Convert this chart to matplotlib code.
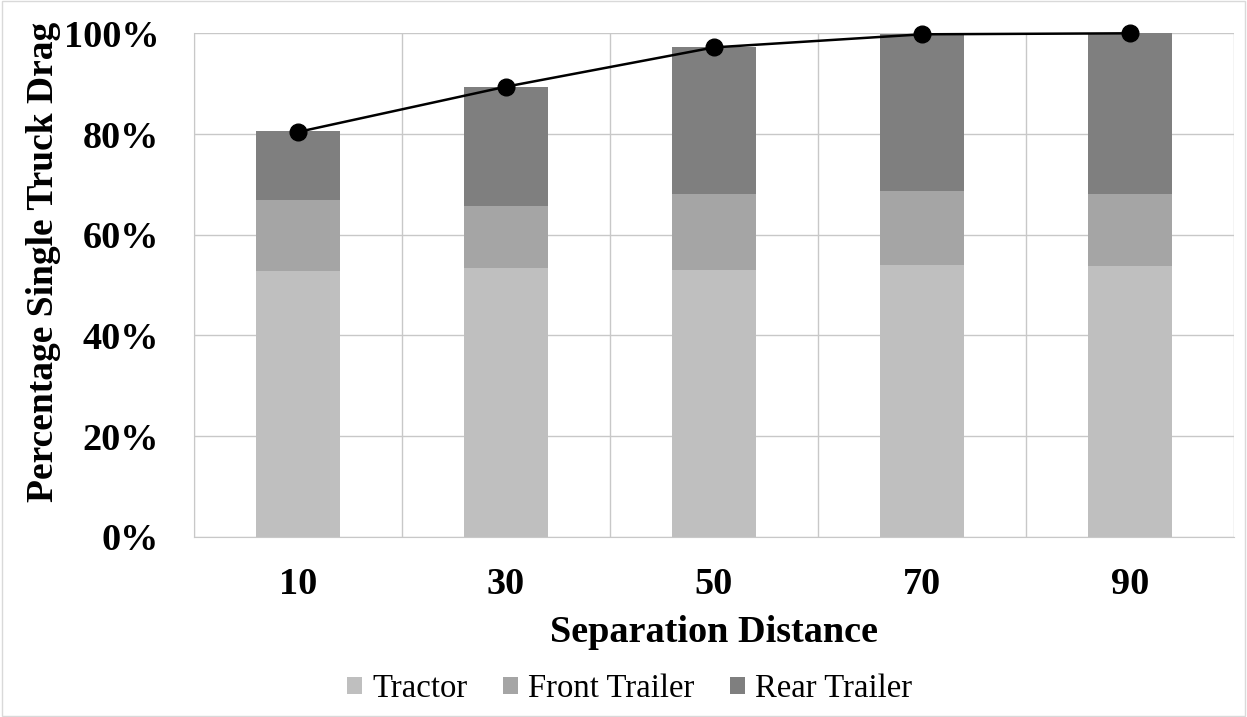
import numpy as np
import matplotlib.pyplot as plt
from matplotlib.patches import Rectangle

distances = ['10', '30', '50', '70', '90']
tractor = [0.528, 0.534, 0.530, 0.540, 0.538]
front_trailer = [0.141, 0.123, 0.151, 0.147, 0.143]
rear_trailer = [0.136, 0.236, 0.291, 0.311, 0.319]
total = [0.804, 0.894, 0.972, 0.998, 1.000]

plt.rcParams['font.family'] = ['Liberation Serif', 'DejaVu Serif']

fig = plt.figure(figsize=(12.47, 7.17), dpi=100)
ax = fig.add_axes([194 / 1247, 1 - 536.8 / 717, 1040 / 1247, 503.5 / 717])

x = np.arange(len(distances))
w = 0.4
ax.bar(x, tractor, w, color='#bfbfbf', label='Tractor', zorder=2)
ax.bar(x, front_trailer, w, bottom=tractor, color='#a5a5a5',
       label='Front Trailer', zorder=2)
bottom2 = np.array(tractor) + np.array(front_trailer)
ax.bar(x, rear_trailer, w, bottom=bottom2, color='#7f7f7f',
       label='Rear Trailer', zorder=2)

# total drag as a line over the stacks
ax.plot(x, total, color='black', linewidth=1.8, marker='o', markersize=12,
        zorder=3, clip_on=False)

ax.set_xlim(-0.5, len(distances) - 0.5)
ax.set_ylim(0, 1.0)
ax.set_yticks(np.arange(0, 1.01, 0.2))
ax.set_yticklabels(['%d%%' % v for v in range(0, 101, 20)],
                   fontsize=27.5, fontweight='bold')
ax.set_xticks(x)
ax.set_xticklabels(distances, fontsize=27.5, fontweight='bold')

# vertical lines between categories
ax.set_xticks(np.arange(-0.5, len(distances)), minor=True)
ax.grid(axis='x', which='minor', color='#c8c8c8', linewidth=1, zorder=0)
ax.grid(axis='y', which='major', color='#c8c8c8', linewidth=1, zorder=0)
ax.tick_params(which='both', length=0)
ax.tick_params(axis='y', pad=25)
ax.tick_params(axis='x', pad=22)
for s in ['top', 'right']:
    ax.spines[s].set_visible(False)
for s in ['left', 'bottom']:
    ax.spines[s].set_color('#c8c8c8')

ax.set_xlabel('Separation Distance', fontsize=27.5, fontweight='bold',
              labelpad=9)
ax.set_ylabel('Percentage Single Truck Drag', fontsize=27, fontweight='bold')
ax.yaxis.set_label_coords(-0.128, 0.546)

fig.legend(loc='center', bbox_to_anchor=(0.505, 1 - 689 / 717), ncol=3,
           frameon=False, fontsize=23.6, handlelength=0.45, handleheight=0.45,
           handletextpad=0.3, columnspacing=1.1)

fig.patches.append(Rectangle((0.002, 0.002), 0.996, 0.996,
                             transform=fig.transFigure, fill=False,
                             edgecolor='#d9d9d9', linewidth=1))

fig.savefig('out.png', dpi=100)
